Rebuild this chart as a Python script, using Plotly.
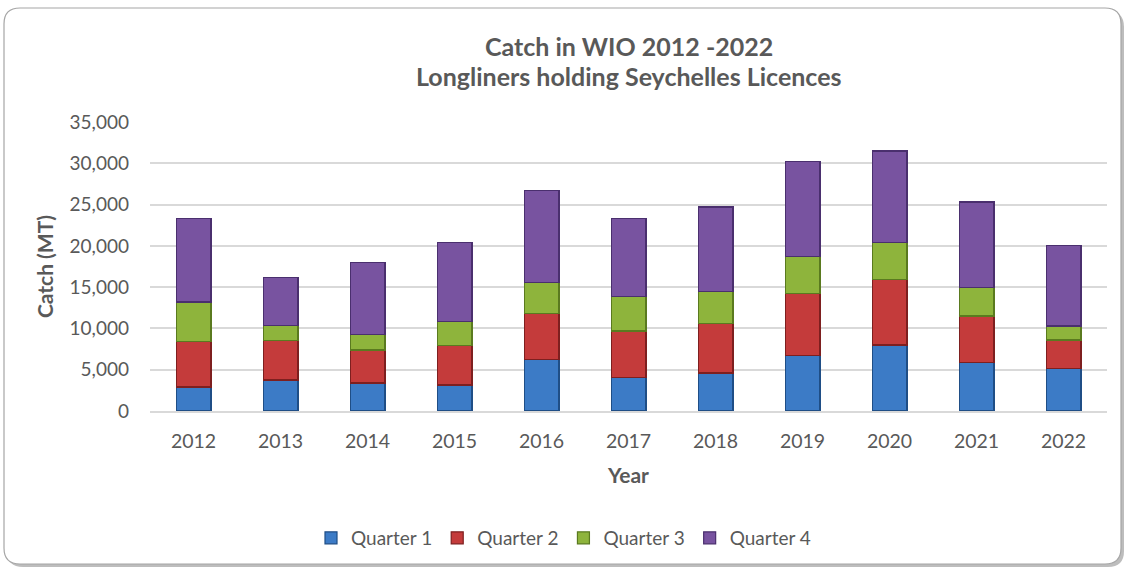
import plotly.graph_objects as go

years = ["2012", "2013", "2014", "2015", "2016", "2017", "2018", "2019", "2020", "2021", "2022"]
q1 = [2900, 3750, 3400, 3150, 6250, 4100, 4600, 6700, 8000, 5850, 5100]
q2 = [5500, 4750, 4000, 4750, 5550, 5600, 6000, 7500, 7900, 5650, 3500]
q3 = [4800, 1900, 1900, 2900, 3800, 4200, 3900, 4500, 4500, 3500, 1700]
q4 = [10100, 5800, 8700, 9600, 11100, 9400, 10200, 11500, 11100, 10300, 9700]
series_names = ["Quarter 1", "Quarter 2", "Quarter 3", "Quarter 4"]
y_ticks = [0, 5000, 10000, 15000, 20000, 25000, 30000, 35000]
title_lines = ["Catch in WIO 2012 -2022", "Longliners holding Seychelles Licences"]

fills = ["#3C7BC6", "#C43B3B", "#8EB43C", "#7853A0"]
edges = ["#1F4E86", "#7E1F1F", "#5A7A1F", "#4A2F6E"]

FONT = "Lato, 'Open Sans', sans-serif"
TXT = "#595959"

fig = go.Figure()
for name, vals, fc, ec in zip(series_names, [q1, q2, q3, q4], fills, edges):
    fig.add_trace(go.Bar(
        x=years, y=vals, name=name,
        marker=dict(color=fc, line=dict(color=ec, width=1.2)),
    ))

# plot area in pixels: x 150..1107, y 122..411
W, H = 957.0, 289.0
def px_to_paper(px, py):
    return (px - 150) / W, (411 - py) / H

def rounded(x0p, y0p, x1p, y1p, r):
    x0, y0 = px_to_paper(x0p, y1p)
    x1, y1 = px_to_paper(x1p, y0p)
    rx, ry = r / W, r / H
    return (f"M {x0+rx},{y0} L {x1-rx},{y0} Q {x1},{y0} {x1},{y0+ry} "
            f"L {x1},{y1-ry} Q {x1},{y1} {x1-rx},{y1} "
            f"L {x0+rx},{y1} Q {x0},{y1} {x0},{y1-ry} "
            f"L {x0},{y0+ry} Q {x0},{y0} {x0+rx},{y0} Z")

fig.add_shape(type="path", path=rounded(7, 11, 1124, 567, 16), xref="paper", yref="paper",
              fillcolor="#BDBDBD", line=dict(width=0), layer="below")
fig.add_shape(type="path", path=rounded(4, 8, 1121, 564, 16), xref="paper", yref="paper",
              fillcolor="white", line=dict(color="#A6A6A6", width=1.2), layer="below")

for line, py in zip(title_lines, [46, 76]):
    _, yp = px_to_paper(0, py)
    fig.add_annotation(text=f"<b>{line}</b>", x=0.5, xref="paper", y=yp, yref="paper",
                       xanchor="center", yanchor="middle", showarrow=False,
                       font=dict(family=FONT, size=25, color=TXT))

fig.update_layout(
    barmode="stack",
    bargap=0.6,
    width=1127, height=569,
    margin=dict(l=150, r=20, t=122, b=158),
    paper_bgcolor="white",
    plot_bgcolor="rgba(0,0,0,0)",
    font=dict(family=FONT, color=TXT, size=19),
    legend=dict(
        orientation="h", x=0.5, xanchor="center", xref="container",
        y=1 - 538 / 569, yanchor="middle", yref="container",
        font=dict(size=19, color=TXT), traceorder="normal",
        itemwidth=30,
    ),
    showlegend=True,
)
fig.update_xaxes(
    title=dict(text="<b>Year</b>", font=dict(size=21, color=TXT), standoff=17),
    tickfont=dict(size=19.5, color=TXT),
    ticklabelstandoff=12,
    showline=True, linecolor="#D9D9D9", linewidth=1.5,
    ticks="", showgrid=False,
)
fig.update_yaxes(
    title=dict(text="<b>Catch (MT)</b>", font=dict(size=21, color=TXT), standoff=10),
    tickvals=y_ticks, tickformat=",", range=[0, 35000],
    tickfont=dict(size=19, color=TXT),
    ticklabelstandoff=20,
    showgrid=True, gridcolor="#D9D9D9", gridwidth=1.5,
    zeroline=False, ticks="", ticklen=0,
)

fig.write_html("out.html", config={"displayModeBar": False},
               post_script="document.body.style.margin='0';document.body.style.overflow='hidden';")
